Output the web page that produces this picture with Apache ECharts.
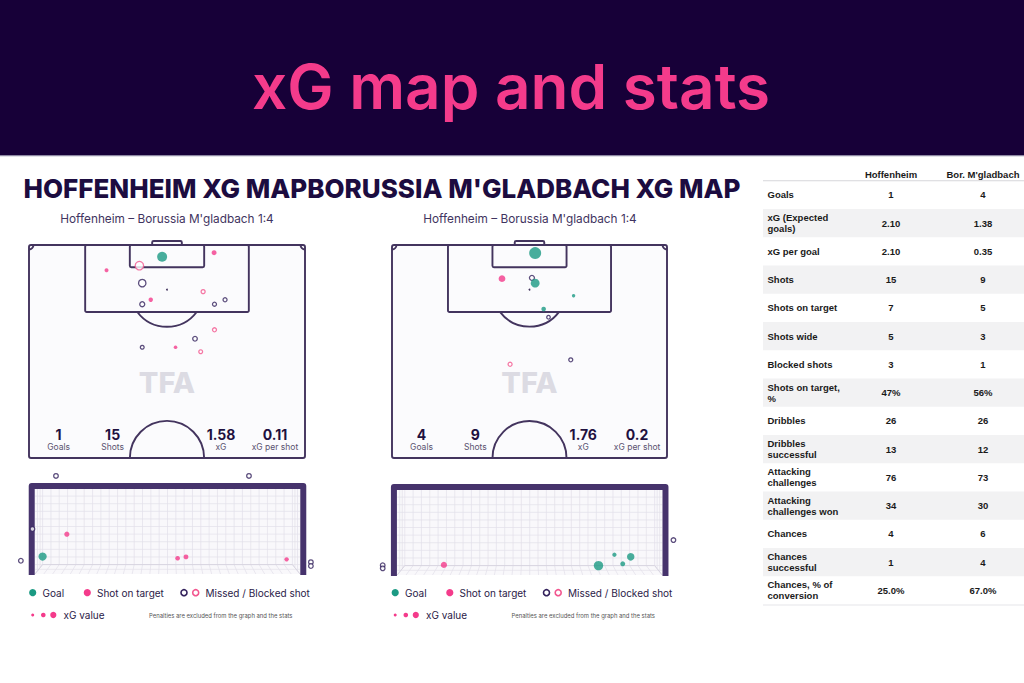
<!DOCTYPE html>
<html><head><meta charset="utf-8">
<script src="https://cdn.jsdelivr.net/npm/echarts@6/dist/echarts.min.js"></script>
<style>html,body{margin:0;padding:0;background:#fff}#c{width:1024px;height:683px}</style>
</head><body><div id="c"></div><script>
// ---------------- DATA ----------------
const pageTitle = 'xG map and stats';
const sectionTitle = "HOFFENHEIM XG MAPBORUSSIA M'GLADBACH XG MAP";
const matchLabel = "Hoffenheim – Borussia M'gladbach 1:4";
const summaryLabels = ['Goals', 'Shots', 'xG', 'xG per shot'];
const homeSummary = ['1', '15', '1.58', '0.11'];
const awaySummary = ['4', '9', '1.76', '0.2'];

// pitch shots: [metres across pitch, metres from goal line, xG]
const homeGoals = [[32.8, 2.9, 0.35]];
const homeOnTarget = [[45.6, 1.9, 0.10], [19.1, 6.2, 0.05], [30.0, 13.5, 0.07], [36.1, 25.2, 0.03]];
const homeBlocked = [[27.2, 5.1, 0.27], [42.9, 11.5, 0.05], [45.7, 20.9, 0.05], [42.3, 26.3, 0.04]];
const homeMissed = [[27.9, 9.4, 0.22], [27.9, 14.6, 0.10], [45.7, 14.6, 0.05], [48.3, 13.5, 0.05], [40.9, 23.1, 0.08], [27.9, 25.2, 0.04]];

const awayGoals = [[35.4, 2.0, 0.45], [35.4, 9.4, 0.29], [44.9, 12.5, 0.02], [37.5, 15.8, 0.08]];
const awayOnTarget = [[27.2, 8.3, 0.19]];
const awayBlocked = [[29.2, 29.4, 0.05]];
const awayMissed = [[34.6, 8.1, 0.10], [38.7, 17.8, 0.03], [44.2, 28.3, 0.05]];

// goal-mouth view: [metres from goal centre, height in metres, xG]
const homeMouthGoals = [[-3.45, 0.50, 0.35]];
const homeMouthOnTarget = [[-2.78, 1.14, 0.10], [0.28, 0.45, 0.05], [0.51, 0.49, 0.07], [3.29, 0.42, 0.03]];
const homeMouthMissed = [[-3.08, 2.81, 0.05], [-3.73, 1.29, 0.05], [-4.05, 0.38, 0.05], [2.25, 2.81, 0.05], [3.96, 0.34, 0.05], [3.96, 0.23, 0.05]];

const awayMouthGoals = [[1.90, 0.27, 0.45], [2.79, 0.52, 0.29], [2.57, 0.32, 0.08], [2.34, 0.58, 0.02]];
const awayMouthOnTarget = [[-2.37, 0.29, 0.19]];
const awayMouthMissed = [[3.97, 1.00, 0.05], [-4.06, 0.28, 0.05], [-4.06, 0.19, 0.05]];

const legendLabels = ['Goal', 'Shot on target', 'Missed / Blocked shot', 'xG value'];
const legendNote = 'Penalties are excluded from the graph and the stats';

const tableTeams = ['Hoffenheim', "Bor. M'gladbach"];
const tableLabels = ['Goals', 'xG (Expected\ngoals)', 'xG per goal', 'Shots', 'Shots on target', 'Shots wide', 'Blocked shots', 'Shots on target,\n%', 'Dribbles', 'Dribbles\nsuccessful', 'Attacking\nchallenges', 'Attacking\nchallenges won', 'Chances', 'Chances\nsuccessful', 'Chances, % of\nconversion'];
const tableHome = ['1', '2.10', '2.10', '15', '7', '5', '3', '47%', '26', '13', '76', '34', '4', '1', '25.0%'];
const tableAway = ['4', '1.38', '0.35', '9', '5', '3', '1', '56%', '26', '12', '73', '30', '6', '4', '67.0%'];

// ---------------- STYLE ----------------
const DARKBG = '#170038', PINK = '#f43b8b', PINK2 = '#f2568f', TEAL = '#1b9a83', DARK = '#33225c';
const LINE = '#43345e', FRAME = '#46336c', NET = '#e2e0e9', TXT = '#2b2148';
const F = 'Inter, "Noto Sans", sans-serif';
const TF = '"Liberation Sans", Arial, sans-serif';

function pitchRender(summary) {
  return function (params, api) {
    const c = p => api.coord(p);
    const k = api.size([1, 1])[0];
    const st = fill => ({ stroke: LINE, lineWidth: 1.9, fill: fill || 'none' });
    const rect = (x0, y0, x1, y1, r, fill) => {
      const a = c([x0, y0]), b = c([x1, y1]);
      return { type: 'rect', shape: { x: a[0], y: a[1], width: b[0] - a[0], height: b[1] - a[1], r: r }, style: st(fill) };
    };
    const ch = [];
    ch.push(rect(30.34, -1.0, 37.66, 0, 1.5, '#fbfbfd'));
    ch.push(rect(0, 0, 68, 52.5, 2, '#fbfbfd'));
    ch.push(rect(24.84, 0, 43.16, 5.5, 1.5));
    ch.push(rect(13.84, 0, 54.16, 16.5, 1.5));
    const ps = c([34, 11]);
    ch.push({ type: 'circle', shape: { cx: ps[0], cy: ps[1], r: 0.9 }, style: { fill: LINE } });
    const a0 = Math.asin(5.5 / 9.15);
    ch.push({ type: 'arc', shape: { cx: ps[0], cy: ps[1], r: 9.15 * k, startAngle: a0, endAngle: Math.PI - a0, clockwise: true }, style: st() });
    const cc = c([34, 52.5]);
    ch.push({ type: 'arc', shape: { cx: cc[0], cy: cc[1], r: 9.15 * k, startAngle: Math.PI, endAngle: 2 * Math.PI, clockwise: true }, style: st() });
    const tl = c([0, 0]), tr = c([68, 0]);
    ch.push({ type: 'arc', shape: { cx: tl[0], cy: tl[1], r: 1.1 * k, startAngle: 0, endAngle: Math.PI / 2, clockwise: true }, style: st() });
    ch.push({ type: 'arc', shape: { cx: tr[0], cy: tr[1], r: 1.1 * k, startAngle: Math.PI / 2, endAngle: Math.PI, clockwise: true }, style: st() });
    const wm = c([34, 34]);
    ch.push({ type: 'text', style: { text: 'TFA', x: wm[0], y: wm[1], fill: '#dcdbe3', font: '800 29px ' + F, align: 'center', verticalAlign: 'middle' } });
    const sx = [7.3, 20.6, 47.3, 60.6];
    summary.forEach((v, i) => {
      const p = c([sx[i], 46.8]), q = c([sx[i], 49.9]);
      ch.push({ type: 'text', style: { text: v, x: p[0], y: p[1], fill: '#1f1140', font: '700 14px ' + F, align: 'center', verticalAlign: 'middle' } });
      ch.push({ type: 'text', style: { text: summaryLabels[i], x: q[0], y: q[1], fill: '#5a5270', font: '400 8.5px ' + F, align: 'center', verticalAlign: 'middle' } });
    });
    return { type: 'group', children: ch };
  };
}

function goalRender(params, api) {
  const c = p => api.coord(p);
  const ch = [];
  const seg = (p, q, col, w) => {
    const a = c(p), b = c(q);
    ch.push({ type: 'line', shape: { x1: a[0], y1: a[1], x2: b[0], y2: b[1] }, style: { stroke: col || NET, lineWidth: w || 0.7 } });
  };
  const a = c([-3.66, 2.44]), b = c([3.66, 0]);
  ch.push({ type: 'rect', shape: { x: a[0], y: a[1], width: b[0] - a[0], height: b[1] - a[1] }, style: { fill: '#f9f8fb' } });
  const bx = 3.45, by = 0.27, top = 2.44;
  const nCols = 30;
  for (let i = 0; i <= nCols; i++) {
    const x = -bx + i * (2 * bx / nCols);
    seg([x, by], [x, top]);
    seg([x, by], [x * 3.66 / bx, 0]);
  }
  for (let y = by; y <= top + 1e-6; y += 0.218) seg([-3.66, y], [3.66, y]);
  seg([-3.66, by / 2], [3.66, by / 2]);
  [-1, 1].forEach(s => {
    seg([s * 3.52, 0.2], [s * 3.52, top]);
    seg([s * 3.59, 0.1], [s * 3.59, top]);
    seg([s * bx, by], [s * 3.66, 0], '#d6d3df', 0.9);
  });
  seg([-bx, by], [bx, by], '#d6d3df', 0.9);
  ch.push({ type: 'polyline', shape: { points: [c([-3.75, -0.03]), c([-3.75, 2.52]), c([3.75, 2.52]), c([3.75, -0.03])] }, style: { stroke: FRAME, lineWidth: 6, fill: 'none', lineJoin: 'round' } });
  return { type: 'group', children: ch };
}

const pitchSize = v => 3 + 20 * v[2];
const mouthSize = v => 4 + 12 * v[2];
const sGoal = { color: TEAL };
const sOn = { color: PINK };
const sMiss = { color: '#ffffff', borderColor: DARK, borderWidth: 1.3 };
const sBlock = { color: '#ffffff', borderColor: PINK2, borderWidth: 1.3 };

function shots(name, data, idx, sizeFn, style) {
  return { type: 'scatter', name: name, xAxisIndex: idx, yAxisIndex: idx, data: data, symbol: 'circle', symbolSize: sizeFn, itemStyle: style, z: 5, clip: false, silent: true, animation: false };
}

// ---------------- GRAPHIC (text & legend & table) ----------------
const graphic = [];
graphic.push({ type: 'rect', shape: { x: 0, y: 0, width: 1024, height: 155 }, style: { fill: DARKBG }, z: 0 });
graphic.push({ type: 'rect', shape: { x: 0, y: 155, width: 1024, height: 1.2 }, style: { fill: '#8d87a2' }, z: 0 });
graphic.push({ type: 'text', style: { text: pageTitle, x: 511, y: 86, fill: PINK, font: '600 62px ' + F, align: 'center', verticalAlign: 'middle' } });
graphic.push({ type: 'text', style: { text: sectionTitle, x: 382, y: 188, fill: '#1c0c40', font: '800 26px ' + F, align: 'center', verticalAlign: 'middle' } });
[167, 530].forEach(x => graphic.push({ type: 'text', style: { text: matchLabel, x: x, y: 218.5, fill: '#3f3460', font: '400 11.8px ' + F, align: 'center', verticalAlign: 'middle' } }));

function legend(ox) {
  const y1 = 592.7, y2 = 615;
  const t = (txt, x, y, font, fill) => ({ type: 'text', style: { text: txt, x: x + ox, y: y, fill: fill || TXT, font: font || ('400 10px ' + F), align: 'left', verticalAlign: 'middle' } });
  const dot = (x, y, r, fill, stroke) => ({ type: 'circle', shape: { cx: x + ox, cy: y, r: r }, style: stroke ? { fill: '#fff', stroke: stroke, lineWidth: 1.6 } : { fill: fill } });
  return [
    dot(32.7, y1, 3.6, TEAL), t(legendLabels[0], 42.5, y1),
    dot(87.3, y1, 3.6, PINK), t(legendLabels[1], 97, y1),
    dot(184, y1, 3, null, DARK), dot(195.7, y1, 3, null, PINK2), t(legendLabels[2], 205.5, y1),
    dot(32.7, y2, 1.5, PINK), dot(43.3, y2, 2.3, PINK), dot(53.3, y2, 3.1, PINK), t(legendLabels[3], 63.5, y2),
    t(legendNote, 149, y2, '400 5.9px ' + F, '#555')
  ];
}
graphic.push(...legend(0), ...legend(362.5));

// table
const tx0 = 763, tw = 1024 - 763, rowTop = 180.7, rowH = 28.25, colX = [891, 983];
const TB = '700 9.5px ' + TF;
tableTeams.forEach((t, i) => graphic.push({ type: 'text', style: { text: t, x: colX[i], y: 174.5, fill: '#1a1a1a', font: TB, align: 'center', verticalAlign: 'middle' } }));
graphic.push({ type: 'rect', shape: { x: tx0, y: rowTop - 0.5, width: tw, height: 1 }, style: { fill: '#d6d6da' } });
tableLabels.forEach((lab, i) => {
  const cy = rowTop + rowH * (i + 0.5);
  if (i % 2 === 1) graphic.push({ type: 'rect', shape: { x: tx0, y: rowTop + rowH * i, width: tw, height: rowH }, style: { fill: '#f2f2f3' } });
  graphic.push({ type: 'text', style: { text: lab, x: 767.5, y: cy, fill: '#1a1a1a', font: TB, lineHeight: 11, align: 'left', verticalAlign: 'middle' } });
  graphic.push({ type: 'text', style: { text: tableHome[i], x: colX[0], y: cy, fill: '#1a1a1a', font: TB, align: 'center', verticalAlign: 'middle' } });
  graphic.push({ type: 'text', style: { text: tableAway[i], x: colX[1], y: cy, fill: '#1a1a1a', font: TB, align: 'center', verticalAlign: 'middle' } });
});
graphic.push({ type: 'rect', shape: { x: tx0, y: rowTop + rowH * tableLabels.length, width: tw, height: 1 }, style: { fill: '#e6e6e9' } });

// ---------------- CHART ----------------
const chart = echarts.init(document.getElementById('c'), null, { renderer: 'svg', width: 1024, height: 683 });
const ax = (g, min, max, inv) => ({ gridIndex: g, type: 'value', min: min, max: max, inverse: !!inv, show: false });
chart.setOption({
  animation: false,
  backgroundColor: '#ffffff',
  grid: [
    { left: 29, top: 245, width: 276, height: 213 },
    { left: 392, top: 245, width: 275, height: 213 },
    { left: 10, top: 465.1, width: 315, height: 108.9 },
    { left: 372.2, top: 466.1, width: 315, height: 108.9 }
  ],
  xAxis: [ax(0, 0, 68), ax(1, 0, 68), ax(2, -4.35, 4.35), ax(3, -4.35, 4.35)],
  yAxis: [ax(0, 0, 52.5, true), ax(1, 0, 52.5, true), ax(2, 0, 3.12), ax(3, 0, 3.12)],
  graphic: graphic,
  series: [
    { type: 'custom', xAxisIndex: 0, yAxisIndex: 0, data: [[0, 0]], renderItem: pitchRender(homeSummary), clip: false, silent: true, z: 1 },
    { type: 'custom', xAxisIndex: 1, yAxisIndex: 1, data: [[0, 0]], renderItem: pitchRender(awaySummary), clip: false, silent: true, z: 1 },
    { type: 'custom', xAxisIndex: 2, yAxisIndex: 2, data: [[0, 0]], renderItem: goalRender, clip: false, silent: true, z: 1 },
    { type: 'custom', xAxisIndex: 3, yAxisIndex: 3, data: [[0, 0]], renderItem: goalRender, clip: false, silent: true, z: 1 },
    shots('homeMissed', homeMissed, 0, pitchSize, sMiss),
    shots('homeBlocked', homeBlocked, 0, pitchSize, sBlock),
    shots('homeOnTarget', homeOnTarget, 0, pitchSize, sOn),
    shots('homeGoals', homeGoals, 0, pitchSize, sGoal),
    shots('awayMissed', awayMissed, 1, pitchSize, sMiss),
    shots('awayBlocked', awayBlocked, 1, pitchSize, sBlock),
    shots('awayOnTarget', awayOnTarget, 1, pitchSize, sOn),
    shots('awayGoals', awayGoals, 1, pitchSize, sGoal),
    shots('homeMouthMissed', homeMouthMissed, 2, mouthSize, sMiss),
    shots('homeMouthOnTarget', homeMouthOnTarget, 2, mouthSize, sOn),
    shots('homeMouthGoals', homeMouthGoals, 2, mouthSize, sGoal),
    shots('awayMouthMissed', awayMouthMissed, 3, mouthSize, sMiss),
    shots('awayMouthOnTarget', awayMouthOnTarget, 3, mouthSize, sOn),
    shots('awayMouthGoals', awayMouthGoals, 3, mouthSize, sGoal)
  ]
});
</script></body></html>
